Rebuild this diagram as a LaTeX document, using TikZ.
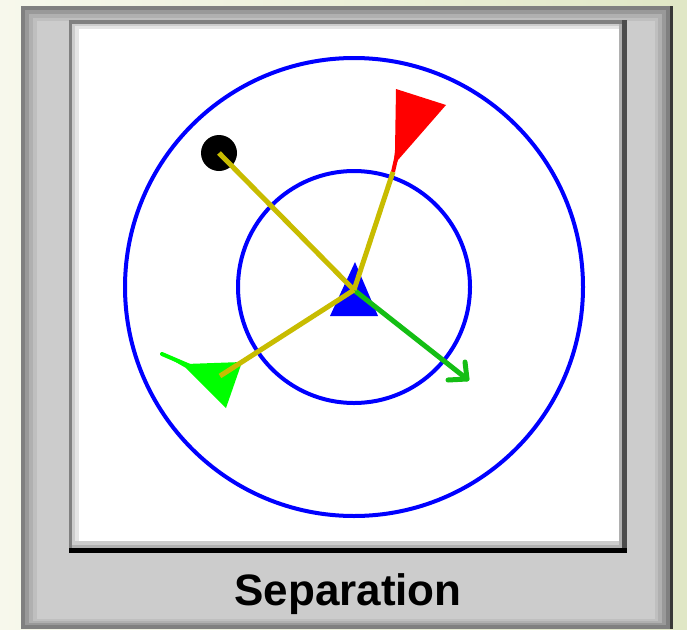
\documentclass[tikz,border=0pt]{standalone}
\usepackage{fontspec}
\setmainfont{Liberation Sans}
\definecolor{bgL}{RGB}{247,248,236}
\definecolor{bgR}{RGB}{224,231,198}
\definecolor{boidyellow}{RGB}{200,188,0}
\definecolor{arrowgreen}{RGB}{20,190,20}
\definecolor{boidgreen}{RGB}{0,255,0}
\tikzset{
  ring/.style={draw={rgb,255:red,0;green,0;blue,255}, line width=4pt},
  feeler/.style={draw=boidyellow, line width=5pt},
  vel/.style={draw=arrowgreen, line width=5pt, line cap=round, line join=round},
}
\begin{document}
\begin{tikzpicture}[x=1pt,y=-1pt]
\useasboundingbox (0,0) rectangle (687,629);
\shade[left color=bgL, right color=bgR] (0,0) rectangle (687,629);
% outer panel
\fill[black!78] (21,6) rectangle (673,629);
\fill[black!50] (21,6) rectangle (670,629);
\fill[black!40] (25,10) rectangle (666,625);
\fill[black!31] (29,14) rectangle (662,623);
\fill[black!25] (33,18) rectangle (658,621);
\fill[black!20] (37,21) rectangle (655,619);
% inner frame
\fill[black] (69,20) rectangle (627,553);
\fill[black!70] (69,20) rectangle (627,548);
\fill[black!50] (69,20) rectangle (622,548);
\fill[black!31] (72,24) rectangle (622,548);
\fill[black!20] (72,24) rectangle (619,545);
\fill[black!10] (75,26) rectangle (619,541);
\fill[white] (79,29) rectangle (619,541);
% rings
\coordinate (ctr) at (354,287);
\draw[ring] (ctr) circle[radius=229pt];
\draw[ring] (ctr) circle[radius=116pt];
% central boid
\coordinate (me) at (354,290);
\fill[blue] (355,262) -- (330,316) -- (378,316) -- cycle;
% neighbours
\coordinate (dot) at (219,153);
\fill[black] (dot) circle[radius=18pt];
\coordinate (greenc) at (220,376);
\fill[boidgreen] (160,353) -- (186,364) -- (242,362) -- (226,408) -- (186,368) -- cycle;
\draw[boidgreen, line width=4pt, line cap=round] (162,354) -- (190,366);
\coordinate (redc) at (393,172);
\fill[red] (396,89) -- (446,105) -- (398,160) -- (393,172) -- (395,150) -- cycle;
\draw[red, line width=4pt] (398,150) -- (393,172);
% velocity arrow
\coordinate (tip) at (467,379);
\draw[vel] (me) -- (tip);
\draw[vel] (465,362) -- (tip) -- (448,380);
% feelers
\draw[feeler] (me) -- (dot);
\draw[feeler] (me) -- (greenc);
\draw[feeler] (me) -- (redc);
% label
\node[font=\fontsize{44}{44}\selectfont\bfseries, anchor=base, inner sep=0pt] (lbl) at (348,605) {Separation};
\end{tikzpicture}
\end{document}
